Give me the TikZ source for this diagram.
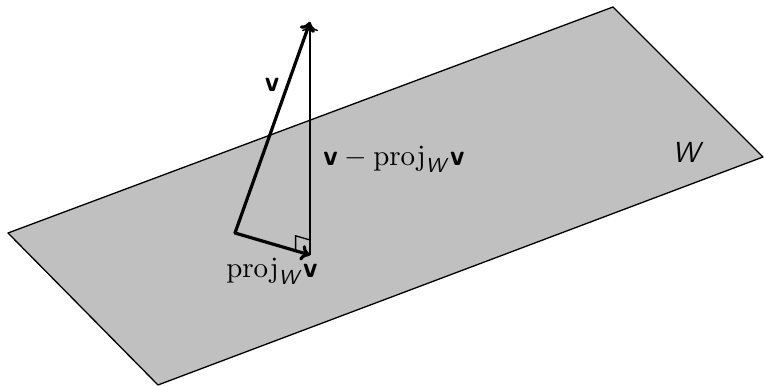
\documentclass[tikz,border=0pt]{standalone}
\usepackage{amsmath}
\usetikzlibrary{arrows.meta}
\definecolor{PlaneGray}{HTML}{C0C0C0}
\newcommand{\vv}{\textsf{\textbf{v}}}
\newcommand{\sW}{\textsf{\textit{W}}}
\begin{document}
\begin{tikzpicture}[x=0.345pt,y=-0.345pt,
 plane/.style={draw=black,fill=PlaneGray,line width=0.45pt,line join=round},
 vec/.style={-{To[length=3.2pt,width=5.5pt]},line width=1.1pt,line cap=round,line join=round},
 normal/.style={-{To[length=3.2pt,width=5.5pt]},line width=0.5pt},
 rightangle/.style={line width=0.45pt},
 lab/.style={inner sep=1pt,font=\normalsize}]
 \useasboundingbox (0,0) rectangle (764,386);
 \draw[plane](8,233)--(613,7)--(763,157)--(158,385)--cycle;
 \coordinate (O) at (235,233);
 \coordinate (V) at (310,22);
 \coordinate (P) at (310,255);
 \draw[rightangle](P)--++(-14.4,-4.2)--++(0,-15)--++(14.4,4.2);
 \draw[normal](P)--(V);
 \draw[vec](O)--(P);
 \draw[vec](O)--(V);
 \node[lab](vlab) at (272,85){$\vv$};
 \node[lab](difflab) at (394,159){$\vv-\mathrm{proj}_{\sW}\vv$};
 \node[lab](projlab) at (272,271){$\mathrm{proj}_{\sW}\vv$};
 \node[lab](wlab) at (688,152){\sW};
\end{tikzpicture}
\end{document}
